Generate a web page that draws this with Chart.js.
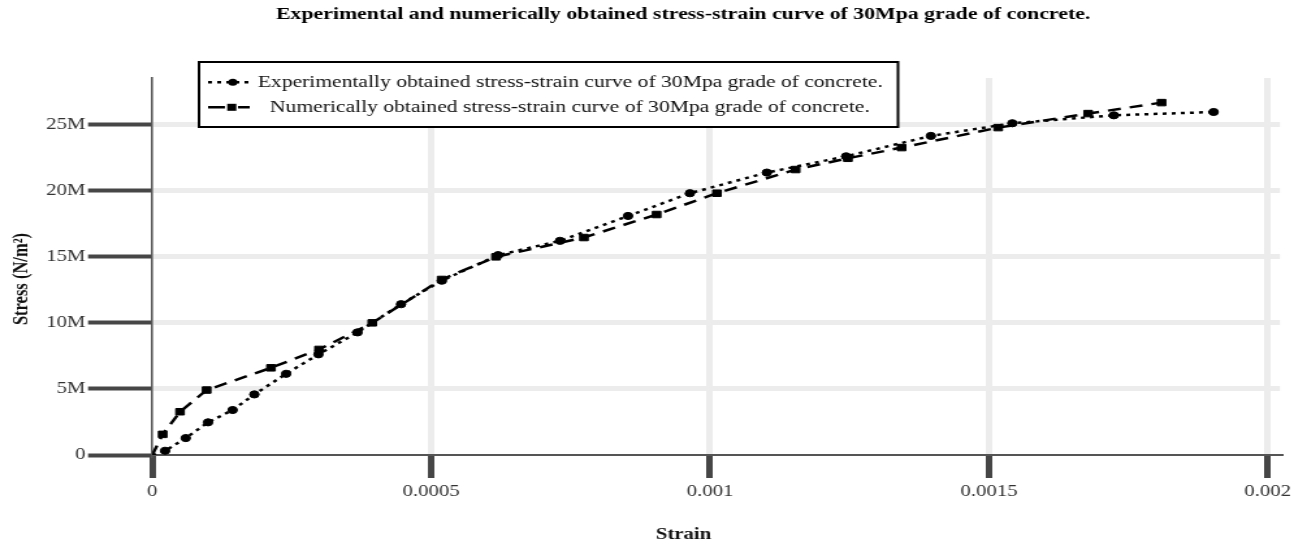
<!DOCTYPE html>
<html>
<head>
<meta charset="utf-8">
<script src="https://cdn.jsdelivr.net/npm/chart.js@4.4.1/dist/chart.umd.min.js"></script>
<style>
  html, body { margin: 0; padding: 0; background: #fff; }
</style>
</head>
<body>
<!-- the drawing surface is widened horizontally on screen -->
<canvas id="chart" width="1005" height="550" style="display:block;width:1307px;height:550px;"></canvas>
<script>
// ---- text ----
const chartTitle = 'Experimental and numerically obtained stress-strain curve of 30Mpa grade of concrete.';
const xAxisTitle = 'Strain';
const yAxisTitle = 'Stress (N/m²)';
const seriesNames = [
  'Experimentally obtained stress-strain curve of 30Mpa grade of concrete.',
  'Numerically obtained stress-strain curve of 30Mpa grade of concrete.'
];

// ---- experimental curve (strain, stress in N/m²) ----
const expStrain = [0, 0.000023, 0.000060, 0.000100, 0.000144, 0.000183, 0.000240, 0.000298,
  0.000368, 0.000446, 0.000519, 0.000620, 0.000731, 0.000853, 0.000964, 0.001102,
  0.001244, 0.001396, 0.001542, 0.001724, 0.001903];
const expStress = [0, 0.32e6, 1.28e6, 2.47e6, 3.40e6, 4.58e6, 6.14e6, 7.61e6,
  9.27e6, 11.40e6, 13.18e6, 15.11e6, 16.19e6, 18.07e6, 19.79e6, 21.35e6,
  22.58e6, 24.12e6, 25.08e6, 25.68e6, 25.93e6];

// ---- numerical curve ----
const numStrain = [0, 0.0000186, 0.0000497, 0.0000975, 0.0002128, 0.0002989, 0.0003944,
  0.0005188, 0.0006162, 0.0007739, 0.0009043, 0.0010124, 0.0011535, 0.0012472,
  0.0013435, 0.0015167, 0.0016780, 0.0018096];
const numStress = [0, 1.56e6, 3.27e6, 4.91e6, 6.59e6, 7.98e6, 9.99e6,
  13.27e6, 14.98e6, 16.44e6, 18.18e6, 19.79e6, 21.58e6, 22.43e6,
  23.24e6, 24.75e6, 25.81e6, 26.64e6];

// ---- axes ----
const xTickValues = [0, 0.0005, 0.001, 0.0015, 0.002];
const xTickLabels = ['0', '0.0005', '0.001', '0.0015', '0.002'];
const yTickValues = [0, 5e6, 10e6, 15e6, 20e6, 25e6];
const yTickLabels = ['0', '5M', '10M', '15M', '20M', '25M'];
const xRange = [0, 0.0020219];
const yRange = [0, 28.5e6];

const SERIF = "'Liberation Serif', 'Times New Roman', serif";
const GRID = '#ececec';
const TICK = '#464646';
const AXIS = '#555555';

const toPoints = (xs, ys) => xs.map((x, i) => ({ x, y: ys[i] }));
const hideAtZero = c => (c.tick && c.tick.value === 0) ? 'rgba(0,0,0,0)' : GRID;

// Chart title and axis captions
const captions = {
  id: 'captions',
  afterDraw(chart) {
    const ctx = chart.ctx;
    ctx.save();
    ctx.fillStyle = '#000';
    ctx.textAlign = 'center';
    ctx.textBaseline = 'middle';
    ctx.font = 'bold 16.8px ' + SERIF;
    ctx.fillText(chartTitle, 525.3, 15);
    ctx.fillStyle = '#111';
    ctx.font = 'bold 16px ' + SERIF;
    ctx.fillText(xAxisTitle, 525.6, 535);
    ctx.translate(17, 279);
    ctx.rotate(-Math.PI / 2);
    ctx.font = 'bold 16.5px ' + SERIF;
    ctx.fillText(yAxisTitle, 0, 0);
    ctx.restore();
  }
};

// Boxed key with line + marker samples
const seriesKey = {
  id: 'seriesKey',
  afterDraw(chart) {
    const ctx = chart.ctx;
    const box = { l: 153, t: 62, r: 690.5, b: 127 };
    ctx.save();
    ctx.fillStyle = '#fff';
    ctx.fillRect(box.l, box.t, box.r - box.l, box.b - box.t);
    ctx.strokeStyle = '#000';
    ctx.lineWidth = 2;
    ctx.strokeRect(box.l, box.t, box.r - box.l, box.b - box.t);

    const rows = [
      { y: 82.3, x0: 160, x1: 194.5, mx: 179, tx: 198.2, dash: [3, 4] },
      { y: 107.3, x0: 160, x1: 192, mx: 178.2, tx: 207.6, dash: [13, 10] }
    ];
    chart.data.datasets.forEach((ds, i) => {
      const r = rows[i];
      ctx.strokeStyle = '#000';
      ctx.lineWidth = ds.borderWidth;
      ctx.setLineDash(r.dash);
      ctx.beginPath();
      ctx.moveTo(r.x0, r.y);
      ctx.lineTo(r.x1, r.y);
      ctx.stroke();
      ctx.setLineDash([]);
      ctx.fillStyle = '#000';
      if (ds.pointStyle === 'circle') {
        ctx.beginPath();
        ctx.arc(r.mx, r.y, 3.5, 0, Math.PI * 2);
        ctx.fill();
      } else {
        ctx.fillRect(r.mx - 3.5, r.y - 3.5, 7, 7);
      }
      ctx.fillStyle = '#111';
      ctx.font = '16.6px ' + SERIF;
      ctx.textAlign = 'left';
      ctx.textBaseline = 'middle';
      ctx.fillText(seriesNames[i], r.tx, r.y);
    });
    ctx.restore();
  }
};

new Chart(document.getElementById('chart'), {
  type: 'line',
  data: {
    datasets: [
      {
        label: seriesNames[0],
        data: toPoints(expStrain, expStress),
        borderColor: '#000',
        backgroundColor: '#000',
        borderWidth: 2.5,
        borderDash: [3, 4],
        pointStyle: 'circle',
        pointRadius: c => c.dataIndex === 0 ? 0 : 3.6,
        pointBackgroundColor: '#000',
        pointBorderColor: '#000',
        pointBorderWidth: 1,
        tension: 0
      },
      {
        label: seriesNames[1],
        data: toPoints(numStrain, numStress),
        borderColor: '#000',
        backgroundColor: '#000',
        borderWidth: 2.5,
        borderDash: [10, 7],
        pointStyle: 'rect',
        pointRadius: c => c.dataIndex === 0 ? 0 : 4.6,
        pointBackgroundColor: '#000',
        pointBorderColor: '#000',
        pointBorderWidth: 1,
        tension: 0
      }
    ]
  },
  options: {
    responsive: false,
    animation: false,
    devicePixelRatio: 1,
    layout: { padding: { top: 78, right: 20.8, bottom: 0, left: 0 } },
    plugins: {
      legend: { display: false },
      title: { display: false },
      tooltip: { enabled: false }
    },
    scales: {
      x: {
        type: 'linear',
        min: xRange[0],
        max: xRange[1],
        afterBuildTicks: s => { s.ticks = xTickValues.map(v => ({ value: v })); },
        afterFit: s => { s.height = 95; },
        ticks: {
          callback: v => xTickLabels[xTickValues.indexOf(v)],
          font: { family: SERIF, size: 16 },
          color: '#333',
          padding: 4,
          maxRotation: 0,
          autoSkip: false
        },
        grid: {
          color: hideAtZero,
          lineWidth: 5,
          drawTicks: true,
          tickLength: 23,
          tickWidth: 5,
          tickColor: TICK
        },
        border: { display: true, color: AXIS, width: 2 }
      },
      y: {
        type: 'linear',
        min: yRange[0],
        max: yRange[1],
        afterBuildTicks: s => { s.ticks = yTickValues.map(v => ({ value: v })); },
        afterFit: s => { s.width = 117.1; },
        ticks: {
          callback: v => yTickLabels[yTickValues.indexOf(v)],
          font: { family: SERIF, size: 16 },
          color: '#333',
          padding: 2
        },
        grid: {
          color: hideAtZero,
          lineWidth: 5,
          drawTicks: true,
          tickLength: 49.4,
          tickWidth: 4,
          tickColor: TICK
        },
        border: { display: true, color: AXIS, width: 1.6 }
      }
    }
  },
  plugins: [captions, seriesKey]
});
</script>
</body>
</html>
